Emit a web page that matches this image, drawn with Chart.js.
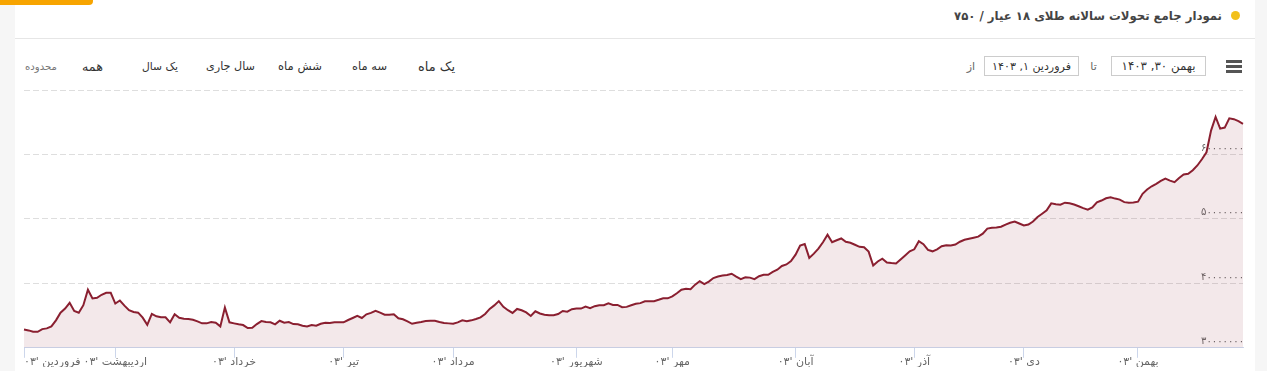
<!DOCTYPE html>
<html lang="fa">
<head>
<meta charset="utf-8">
<script src="https://cdn.jsdelivr.net/npm/chart.js@4/dist/chart.umd.min.js"></script>
<style>
  html, body { margin:0; padding:0; width:1267px; height:371px; overflow:hidden; background:#fff; font-family:"DejaVu Sans", sans-serif; }
  .abs { position:absolute; white-space:nowrap; }
  #leftPanel { left:0; top:0; width:15px; height:371px; background:#f6f6f6; }
  #rightPanel { left:1255px; top:0; width:12px; height:371px; background:#f6f6f6; }
  #orange { left:0; top:0; width:93px; height:5px; background:#f7a400; border-bottom-right-radius:4px; }
  #divider { left:15px; top:38px; width:1240px; height:1px; background:#e6e6e6; }
  #title { right:45px; top:16px; transform:translateY(-50%); color:#444; font-weight:bold; font-size:12px; }
  #dot { left:1231px; top:11px; width:9px; height:9px; border-radius:50%; background:#f2c01a; }
  .btn { top:66px; transform:translate(-50%,-50%); color:#333; font-size:12px; }
  .small { color:#777; font-size:9px; }
  .box { top:56px; height:20px; border:1px solid #cccccc; box-sizing:border-box; display:flex; align-items:center; justify-content:center; color:#333; font-size:11px; }
  .lbl { top:66px; transform:translate(-50%,-50%); color:#666; font-size:11px; }
  .bar { left:1226px; width:16px; height:3px; background:#555; }
  canvas { position:absolute; left:0; top:0; }
</style>
</head>
<body>
<div class="abs" id="leftPanel"></div>
<div class="abs" id="rightPanel"></div>
<div class="abs" id="orange"></div>
<div class="abs" id="divider"></div>
<div class="abs" id="dot"></div>
<div class="abs" id="title" dir="rtl" data-w="268">نمودار جامع تحولات سالانه طلای ۱۸ عیار / ۷۵۰</div>

<div class="abs btn small" style="left:41px" dir="rtl" data-w="32">محدوده</div>
<div class="abs btn" style="left:92.5px" dir="rtl" data-w="21">همه</div>
<div class="abs btn" style="left:160px" dir="rtl" data-w="36">یک سال</div>
<div class="abs btn" style="left:230.5px" dir="rtl" data-w="49">سال جاری</div>
<div class="abs btn" style="left:300px" dir="rtl" data-w="44">شش ماه</div>
<div class="abs btn" style="left:369.5px" dir="rtl" data-w="35">سه ماه</div>
<div class="abs btn" style="left:436.5px" dir="rtl" data-w="37">یک ماه</div>

<div class="abs lbl" style="left:971px" dir="rtl">از</div>
<div class="abs box" style="left:984px; width:95px;" dir="rtl"><span data-w="79">فروردین ۱, ۱۴۰۳</span></div>
<div class="abs lbl" style="left:1093.5px" dir="rtl">تا</div>
<div class="abs box" style="left:1111px; width:95px;" dir="rtl"><span data-w="74">بهمن ۳۰, ۱۴۰۳</span></div>
<div class="abs bar" style="top:60px"></div>
<div class="abs bar" style="top:65px"></div>
<div class="abs bar" style="top:70px"></div>

<canvas id="c" width="1267" height="371"></canvas>
<script>
// ---- data (toman) ----
const prices = [
32850000,32700000,32480000,32480000,32900000,33010000,33320000,34260000,35450000,36080000,
36970000,35720000,35450000,36610000,39010000,37650000,37760000,38230000,38540000,38540000,
36870000,37340000,36550000,35830000,35560000,35450000,34670000,33570000,35250000,34890000,
34730000,34730000,33950000,35200000,34670000,34510000,34470000,34360000,34110000,33790000,
33790000,34000000,33890000,33320000,36240000,33950000,33790000,33640000,33530000,33060000,
33100000,33680000,34150000,34000000,33950000,33640000,34200000,33890000,34000000,33680000,
33640000,33420000,33320000,33530000,33420000,33730000,33890000,33840000,33950000,33950000,
33950000,34310000,34620000,34940000,34620000,35200000,35410000,35720000,35450000,35140000,
35140000,35200000,34580000,34420000,34110000,33730000,33890000,34000000,34150000,34200000,
34200000,34000000,33840000,33790000,33730000,33950000,34260000,34110000,34260000,34470000,
34730000,35250000,36030000,36580000,37240000,36350000,35830000,35410000,36030000,35830000,
35490000,34940000,35670000,35330000,35140000,35050000,35050000,35250000,35720000,35610000,
35990000,36080000,36080000,36390000,36140000,36460000,36610000,36610000,36900000,36660000,
36660000,36300000,36350000,36610000,36820000,36930000,37210000,37210000,37240000,37450000,
37680000,37680000,37990000,38460000,39010000,39170000,39090000,39800000,40340000,39870000,
40270000,40820000,41050000,41210000,41290000,41490000,41050000,40660000,40940000,40890000,
40660000,41100000,41320000,41320000,41790000,42120000,42700000,42930000,43450000,44450000,
45880000,46110000,43950000,44610000,45390000,46380000,47550000,46380000,46690000,46960000,
46460000,46300000,45990000,45670000,45600000,44920000,42770000,43400000,43820000,43240000,
43150000,43090000,43710000,44340000,44970000,45280000,46540000,46070000,45200000,44970000,
45280000,45750000,45910000,45880000,46030000,46460000,46770000,46930000,47080000,47240000,
47710000,48500000,48620000,48650000,48780000,49120000,49400000,49590000,49280000,48970000,
49120000,49590000,50300000,50800000,51320000,52410000,52260000,52210000,52520000,52430000,
52230000,51970000,51680000,51440000,51790000,52570000,52850000,53200000,53350000,53150000,
52990000,52600000,52490000,52540000,52680000,53900000,54560000,55060000,55440000,55890000,
56250000,55940000,55690000,56350000,56880000,56990000,57550000,58290000,59260000,60330000,
63700000,65820000,64010000,64170000,65610000,65470000,65160000,64760000
];
// first trading day of each month (index into prices) and its label
const monthNames = ['فروردین','اردیبهشت','خرداد','تیر','مرداد','شهریور','مهر','آبان','آذر','دی','بهمن'];
const monthStartIndex = [0, 20, 46, 70, 94, 121, 142, 169, 195, 219, 244];
const yearLabel = '۰۳';
const yTicks = [30000000, 40000000, 50000000, 60000000, 70000000];

// ---- fit chrome text widths ----
document.querySelectorAll('[data-w]').forEach(el => {
  const target = parseFloat(el.getAttribute('data-w'));
  const fs = parseFloat(getComputedStyle(el).fontSize);
  const w = el.getBoundingClientRect().width;
  if (w > 0) el.style.fontSize = (fs * target / w).toFixed(2) + 'px';
});

const faDigits = '۰۱۲۳۴۵۶۷۸۹';
const toFa = v => String(v).replace(/\d/g, d => faDigits[d]);

const labels = new Array(prices.length).fill('');
monthStartIndex.forEach((idx, k) => { labels[idx] = monthNames[k] + " '" + yearLabel; });

new Chart(document.getElementById('c'), {
  type: 'line',
  data: {
    labels: labels,
    datasets: [{
      data: prices,
      borderColor: '#8a1f30',
      borderWidth: 2,
      backgroundColor: 'rgba(138,31,48,0.10)',
      fill: 'start',
      pointRadius: 0,
      tension: 0
    }]
  },
  options: {
    responsive: false,
    animation: false,
    layout: { padding: { left: 24, right: 22, top: 90, bottom: 4 } },
    plugins: { legend: { display: false }, tooltip: { enabled: false } },
    scales: {
      x: {
        type: 'category',
        offset: false,
        ticks: {
          autoSkip: false, maxRotation: 0, minRotation: 0, align: 'inner', padding: -2,
          color: '#666', font: { family: 'DejaVu Sans', size: 11 },
          callback: (v, i) => labels[i]
        },
        grid: {
          drawOnChartArea: false, drawTicks: true, tickLength: 10,
          tickColor: ctx => (ctx.tick && ctx.tick.label) ? '#ccd6eb' : 'rgba(0,0,0,0)'
        },
        border: { display: true, color: '#ccd6eb' }
      },
      y: {
        position: 'right',
        min: yTicks[0], max: yTicks[yTicks.length - 1],
        afterBuildTicks: axis => { axis.ticks = yTicks.map(v => ({ value: v })); },
        ticks: {
          mirror: true, padding: 1, labelOffset: -6,
          color: '#666', font: { family: 'DejaVu Sans', size: 10 },
          callback: v => v === yTicks[yTicks.length - 1] ? '' : toFa(v)
        },
        grid: { color: '#dedede', drawTicks: false },
        border: { display: false, dash: [6, 3] }
      }
    }
  }
});
</script>
</body>
</html>
